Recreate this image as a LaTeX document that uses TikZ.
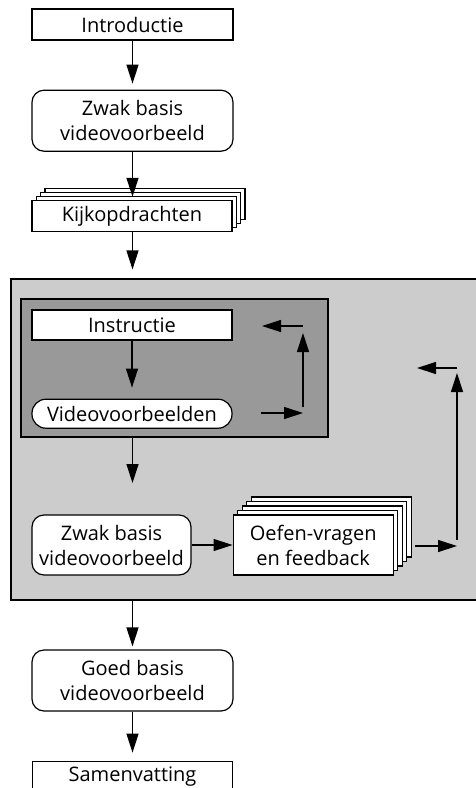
\documentclass[tikz,border=0pt]{standalone}
\usepackage{fontspec}
\setmainfont{Open Sans}
\usepackage{xcolor}
\usetikzlibrary{arrows.meta,positioning,shadows}
\definecolor{phasegrey}{RGB}{204,204,204}
\definecolor{cyclegrey}{RGB}{153,153,153}

\begin{document}
\begin{tikzpicture}[
    x=1pt, y=-1pt,
    every node/.style={font=\fontsize{20}{25}\selectfont, inner sep=0pt, align=center},
    stepbox/.style={rectangle, draw=black, fill=white, line width=1.2pt,
        minimum width=200pt, minimum height=31pt},
    roundbox/.style={stepbox, rounded corners=12pt, minimum height=61pt},
    pillbox/.style={stepbox, rounded corners=14pt, minimum height=29pt},
    zone/.style={rectangle, draw=black, line width=1.2pt},
    stackthree/.style={
        copy shadow={shadow xshift=13pt, shadow yshift=12pt, line width=1.2pt},
        copy shadow={shadow xshift=8.6pt, shadow yshift=8pt, line width=1.2pt},
        copy shadow={shadow xshift=4.3pt, shadow yshift=4pt, line width=1.2pt}},
    stackfour/.style={
        copy shadow={shadow xshift=18pt, shadow yshift=18pt, line width=1.2pt},
        copy shadow={shadow xshift=13.5pt, shadow yshift=13.5pt, line width=1.2pt},
        copy shadow={shadow xshift=9pt, shadow yshift=9pt, line width=1.2pt},
        copy shadow={shadow xshift=4.5pt, shadow yshift=4.5pt, line width=1.2pt}},
    every path/.style={line width=1.2pt},
    >={Triangle[length=19pt,width=12pt]}
]
\useasboundingbox (0,0) rectangle (475,788);

% opening
\node[stepbox, minimum width=201pt] (intro) at (132.5,24.5) {Introductie};
\node[roundbox, minimum width=201pt, below=49pt of intro] (zwakA) {Zwak basis\\videovoorbeeld};
\node[stepbox, stackthree, below=48pt of zwakA.south -| intro.south west, anchor=north west] (kijk) {Kijkopdrachten};

% practice phase (runs past the right margin)
\node[zone, fill=phasegrey, minimum width=509pt, minimum height=321pt] (phase) at (265.5,439.5) {};
\node[zone, fill=cyclegrey, minimum width=307pt, minimum height=138pt] (cycle) at (174.5,368) {};
\node[stepbox, minimum height=30pt] (instr) at (132,325) {Instructie};
\node[pillbox, below=58pt of instr] (video) {Videovoorbeelden};
\node[roundbox, minimum width=159pt, minimum height=60pt] (zwakB) at (111.5,545) {Zwak basis\\videovoorbeeld};
\node[stepbox, stackfour, minimum width=160pt, minimum height=60pt, right=41pt of zwakB] (oefen) {Oefen-vragen\\en feedback};

% closing
\node[roundbox, minimum width=201pt] (goed) at (132.5,680.5) {Goed basis\\videovoorbeeld};
\node[stepbox, minimum height=30pt, below=49pt of goed] (samen) {Samenvatting};

% loose ends
\coordinate (cycleend) at (132.5,483);
\coordinate (innerA) at (261,413);
\coordinate (innerB) at (303,413);
\coordinate (innerE) at (303,326);
\coordinate (innerF) at (262,326);
\coordinate (outerA) at (415,546);
\coordinate (outerB) at (457,546);
\coordinate (outerE) at (457,368);
\coordinate (outerF) at (417,368);

\draw[->, shorten >=6pt] (intro) -- (zwakA);
\draw[->, shorten >=3pt] (zwakA) -- (zwakA |- kijk.north);
\draw[->, shorten >=9pt] (zwakA |- kijk.south) -- (zwakA |- phase.north);
\draw[->, shorten >=11pt] (instr) -- (video);
\draw[->] (cycleend |- cycle.south) -- (cycleend);
\draw[->] (zwakB) -- (zwakB -| oefen.west);
\draw[->, shorten >=3pt] (goed |- phase.south) -- (goed);
\draw[->, shorten >=8pt] (goed) -- (samen);

\draw[->] (innerA) -- (innerB);
\draw[->, shorten <=6pt, shorten >=7pt] (innerB) -- (innerE);
\draw[->] (innerE) -- (innerF);
\draw[->] (outerA) -- (outerB);
\draw[->, shorten <=6pt, shorten >=5pt] (outerB) -- (outerE);
\draw[->] (outerE) -- (outerF);
\end{tikzpicture}
\end{document}
